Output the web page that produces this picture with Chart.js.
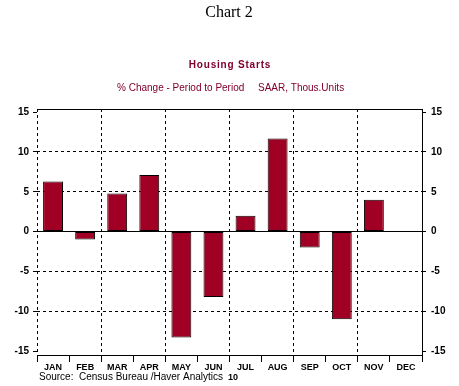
<!DOCTYPE html>
<html>
<head>
<meta charset="utf-8">
<script src="https://cdn.jsdelivr.net/npm/chart.js@4/dist/chart.umd.min.js"></script>
<style>
  html, body { margin: 0; padding: 0; background: #fff; }
  #wrap { width: 459px; height: 386px; position: relative; }
</style>
</head>
<body>
<div id="wrap"><canvas id="ctx" width="459" height="386"></canvas></div>
<script>
var months = ['JAN', 'FEB', 'MAR', 'APR', 'MAY', 'JUN', 'JUL', 'AUG', 'SEP', 'OCT', 'NOV', 'DEC'];
var starts = [6.3, -1.0, 4.8, 7.1, -13.3, -8.2, 2.0, 11.7, -2.0, -11.0, 4.0, null];
var yTicks = [-15, -10, -5, 0, 5, 10, 15];

var barColor = '#a00023';
var textRed = '#800030';
var tickFont = { family: 'Liberation Sans, Arial', size: 10, weight: 'bold' };

function setTicks(s) {
  s.ticks = yTicks.map(function (v) { return { value: v }; });
}

var frameAndText = {
  id: 'frameAndText',
  afterDraw: function (chart) {
    var c = chart.ctx, a = chart.chartArea;
    c.save();
    // top frame line
    c.strokeStyle = '#000';
    c.lineWidth = 1;
    c.beginPath();
    c.moveTo(a.left, Math.round(a.top) + 0.5);
    c.lineTo(a.right, Math.round(a.top) + 0.5);
    c.stroke();

    c.fillStyle = '#000';
    c.textAlign = 'center';
    c.textBaseline = 'alphabetic';
    c.font = '16px "Liberation Serif", "Times New Roman", serif';
    c.fillText('Chart 2', 229, 17);

    c.fillStyle = textRed;
    c.font = 'bold 10px "Liberation Sans", Arial';
    c.letterSpacing = '0.8px';
    c.fillText('Housing Starts', 230, 68);

    c.font = '10px "Liberation Sans", Arial';
    c.letterSpacing = '0px';
    c.textAlign = 'left';
    c.fillText('% Change - Period to Period', 117, 91);
    c.fillText('SAAR, Thous.Units', 258, 91);

    c.fillStyle = '#000';
    c.fillText('Source:  Census Bureau /Haver Analytics', 39, 380);

    c.font = 'bold 9px "Liberation Sans", Arial';
    c.textAlign = 'left';
    c.fillText('10', 228, 380);
    c.restore();
  }
};

new Chart(document.getElementById('ctx'), {
  type: 'bar',
  data: {
    labels: months,
    datasets: [
      {
        data: starts,
        backgroundColor: barColor,
        borderColor: '#000',
        borderWidth: 1,
        borderSkipped: false,
        barPercentage: 0.62,
        categoryPercentage: 1.0
      }
    ]
  },
  plugins: [frameAndText],
  options: {
    responsive: false,
    animation: false,
    layout: { padding: { top: 109, left: 0, right: 0, bottom: 0 } },
    plugins: {
      legend: { display: false },
      tooltip: { enabled: false },
      title: { display: false }
    },
    scales: {
      x: {
        grid: {
          offset: true,
          color: function (ctx) { return (ctx.type === 'tick' && ctx.index % 2 === 0) ? '#000' : 'rgba(0,0,0,0)'; },
          tickColor: '#000',
          tickLength: 7,
          lineWidth: 1
        },
        border: { display: true, color: '#000', width: 1, dash: [3, 3] },
        ticks: { color: '#000', font: { family: 'Liberation Sans, Arial', size: 9, weight: 'bold' }, padding: 0, maxRotation: 0, autoSkip: false },
        afterFit: function (s) { s.height = 31; }
      },
      y: {
        position: 'left',
        min: -15.5,
        max: 15.4,
        afterBuildTicks: setTicks,
        grid: {
          color: function (ctx) {
            var v = ctx.tick ? ctx.tick.value : null;
            return (v === 15 || v === -15 || v === null) ? 'rgba(0,0,0,0)' : '#000';
          },
          tickColor: '#000',
          tickLength: 4
        },
        border: {
          display: false,
          dash: function (ctx) { return (ctx.tick && ctx.tick.value === 0) ? [] : [3, 3]; }
        },
        ticks: { color: '#000', font: tickFont, padding: 4 },
        afterFit: function (s) { s.width = 37; }
      },
      y2: {
        position: 'right',
        min: -15.5,
        max: 15.4,
        afterBuildTicks: setTicks,
        grid: { drawOnChartArea: false, tickColor: '#000', tickLength: 4 },
        border: { display: true, color: '#000', width: 1 },
        ticks: { color: '#000', font: tickFont, padding: 5 },
        afterFit: function (s) { s.width = 37; }
      }
    }
  }
});
</script>
</body>
</html>
